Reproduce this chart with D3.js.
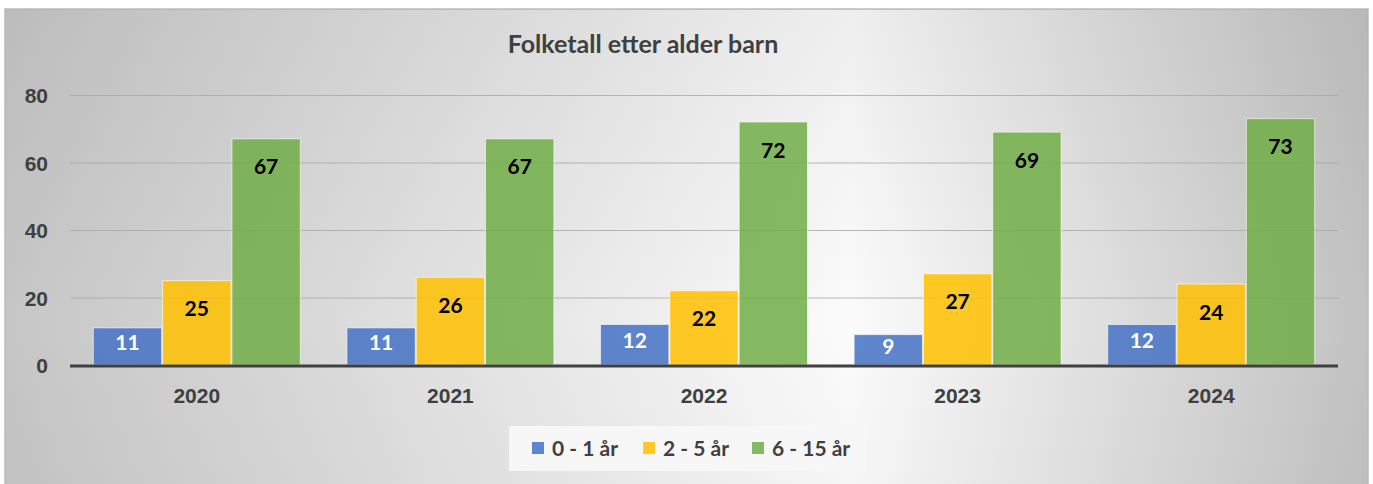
<!DOCTYPE html>
<html>
<head>
    <meta charset="utf-8">
    <title>Folketall etter alder barn</title>
    <script src="https://d3js.org/d3.v7.min.js"></script>
    <style type="text/css">
        body {
            margin: 0;
            background: #ffffff;
            font-family: Lato, "Noto Sans", sans-serif;
        }
        .tick-label {
            font-size: 21px;
            font-weight: bold;
            fill: #404040;
        }
        .bar-label {
            font-size: 21px;
            font-weight: bold;
            text-anchor: middle;
        }
        .legend-text {
            font-size: 21px;
            font-weight: bold;
            fill: #404040;
        }
    </style>
</head>
<body>
    <svg id="chart" width="1373" height="484"></svg>

    <script>
        var years = ["2020", "2021", "2022", "2023", "2024"];
        var groups = ["0 - 1 år", "2 - 5 år", "6 - 15 år"];
        var age0to1 = [11, 11, 12, 9, 12];
        var age2to5 = [25, 26, 22, 27, 24];
        var age6to15 = [67, 67, 72, 69, 73];
        var yTicks = [0, 20, 40, 60, 80];
        var colors = ["#4472c4", "#ffc000", "#70ad47"];
        var labelColors = ["#ffffff", "#000000", "#000000"];

        var series = [age0to1, age2to5, age6to15];

        var svg = d3.select("#chart");

        // background with a soft light spot, as in the spreadsheet
        var defs = svg.append("defs");
        var grad = defs.append("linearGradient")
            .attr("id", "bg")
            .attr("x1", "0").attr("y1", "0")
            .attr("x2", "1").attr("y2", "0");
        grad.append("stop").attr("offset", "0").attr("stop-color", "#c6c6c6");
        grad.append("stop").attr("offset", "0.62").attr("stop-color", "#fbfbfb");
        grad.append("stop").attr("offset", "1").attr("stop-color", "#c2c2c2");

        var shade = defs.append("linearGradient")
            .attr("id", "shade")
            .attr("x1", "0").attr("y1", "0")
            .attr("x2", "0").attr("y2", "1");
        shade.append("stop").attr("offset", "0").attr("stop-color", "#000").attr("stop-opacity", 0.05);
        shade.append("stop").attr("offset", "0.65").attr("stop-color", "#000").attr("stop-opacity", 0);
        shade.append("stop").attr("offset", "1").attr("stop-color", "#000").attr("stop-opacity", 0.02);

        svg.append("rect")
            .attr("x", 5).attr("y", 9)
            .attr("width", 1363).attr("height", 480)
            .attr("fill", "url(#bg)")
            .attr("stroke", "#bdbdbd")
            .attr("stroke-width", 1.5);
        svg.append("rect")
            .attr("x", 5).attr("y", 9)
            .attr("width", 1363).attr("height", 480)
            .attr("fill", "url(#shade)");

        svg.append("text")
            .attr("x", 643)
            .attr("y", 53)
            .attr("text-anchor", "middle")
            .style("font-size", "25px")
            .style("font-weight", "bold")
            .style("fill", "#404040")
            .text("Folketall etter alder barn");

        var x0 = d3.scaleBand()
            .domain(years)
            .range([70, 1338])
            .paddingInner(0.18)
            .paddingOuter(0.09);

        var x1 = d3.scaleBand()
            .domain(d3.range(groups.length))
            .range([0, x0.bandwidth()])
            .padding(0);

        var y = d3.scaleLinear()
            .domain([0, 80])
            .range([365, 95]);

        // gridlines
        var yAxis = svg.append("g")
            .attr("transform", "translate(70,0)")
            .call(d3.axisLeft(y).tickValues(yTicks).tickSize(-1268).tickPadding(22));
        yAxis.select(".domain").remove();
        yAxis.selectAll(".tick line")
            .attr("stroke", "#a8a8a8")
            .attr("stroke-opacity", function(d) { return d === 0 ? 0 : 0.8; });
        yAxis.selectAll("text")
            .attr("class", "tick-label")
            .attr("dy", "0.36em");

        // bars
        var yearGroups = svg.selectAll("g.year")
            .data(years)
            .enter()
            .append("g")
            .attr("class", "year")
            .attr("transform", function(d) { return "translate(" + x0(d) + ",0)"; });

        yearGroups.each(function(year, i) {
            var g = d3.select(this);
            var vals = series.map(function(s, k) { return { k: k, v: s[i] }; });

            g.selectAll("rect")
                .data(vals)
                .enter()
                .append("rect")
                .attr("x", function(d) { return x1(d.k) + 0.5; })
                .attr("y", function(d) { return y(d.v); })
                .attr("width", x1.bandwidth() - 1)
                .attr("height", function(d) { return y(0) - y(d.v); })
                .attr("fill", function(d) { return colors[d.k]; })
                .attr("fill-opacity", 0.85)
                .attr("stroke", "#ffffff")
                .attr("stroke-opacity", 0.6)
                .attr("stroke-width", 1);

            g.selectAll("text")
                .data(vals)
                .enter()
                .append("text")
                .attr("class", "bar-label")
                .attr("x", function(d) { return x1(d.k) + x1.bandwidth() / 2; })
                .attr("y", function(d) {
                    var h = y(0) - y(d.v);
                    return y(d.v) + Math.min(28, h * 0.4);
                })
                .attr("dy", "0.36em")
                .style("fill", function(d) { return labelColors[d.k]; })
                .text(function(d) { return d.v; });
        });

        // zero line
        svg.append("line")
            .attr("x1", 70).attr("x2", 1338)
            .attr("y1", y(0) + 1).attr("y2", y(0) + 1)
            .attr("stroke", "#404040")
            .attr("stroke-width", 3);

        // x axis labels
        var xAxis = svg.append("g")
            .attr("transform", "translate(0," + (y(0) + 2) + ")")
            .call(d3.axisBottom(x0).tickSize(0).tickPadding(21));
        xAxis.select(".domain").remove();
        xAxis.selectAll("text")
            .attr("class", "tick-label");

        // legend
        var legend = svg.append("g");
        legend.append("rect")
            .attr("x", 509).attr("y", 426)
            .attr("width", 356).attr("height", 45)
            .attr("fill", "#f7f7f7");

        var legendX = [532, 643, 752];
        var items = legend.selectAll("g.item")
            .data(groups)
            .enter()
            .append("g")
            .attr("class", "item")
            .attr("transform", function(d, i) { return "translate(" + legendX[i] + ",448)"; });
        items.append("rect")
            .attr("x", 0).attr("y", -6)
            .attr("width", 12).attr("height", 12)
            .attr("fill", function(d, i) { return colors[i]; })
            .attr("fill-opacity", 0.85);
        items.append("text")
            .attr("class", "legend-text")
            .attr("x", 20)
            .attr("dy", "0.36em")
            .text(function(d) { return d; });
    </script>
</body>
</html>
